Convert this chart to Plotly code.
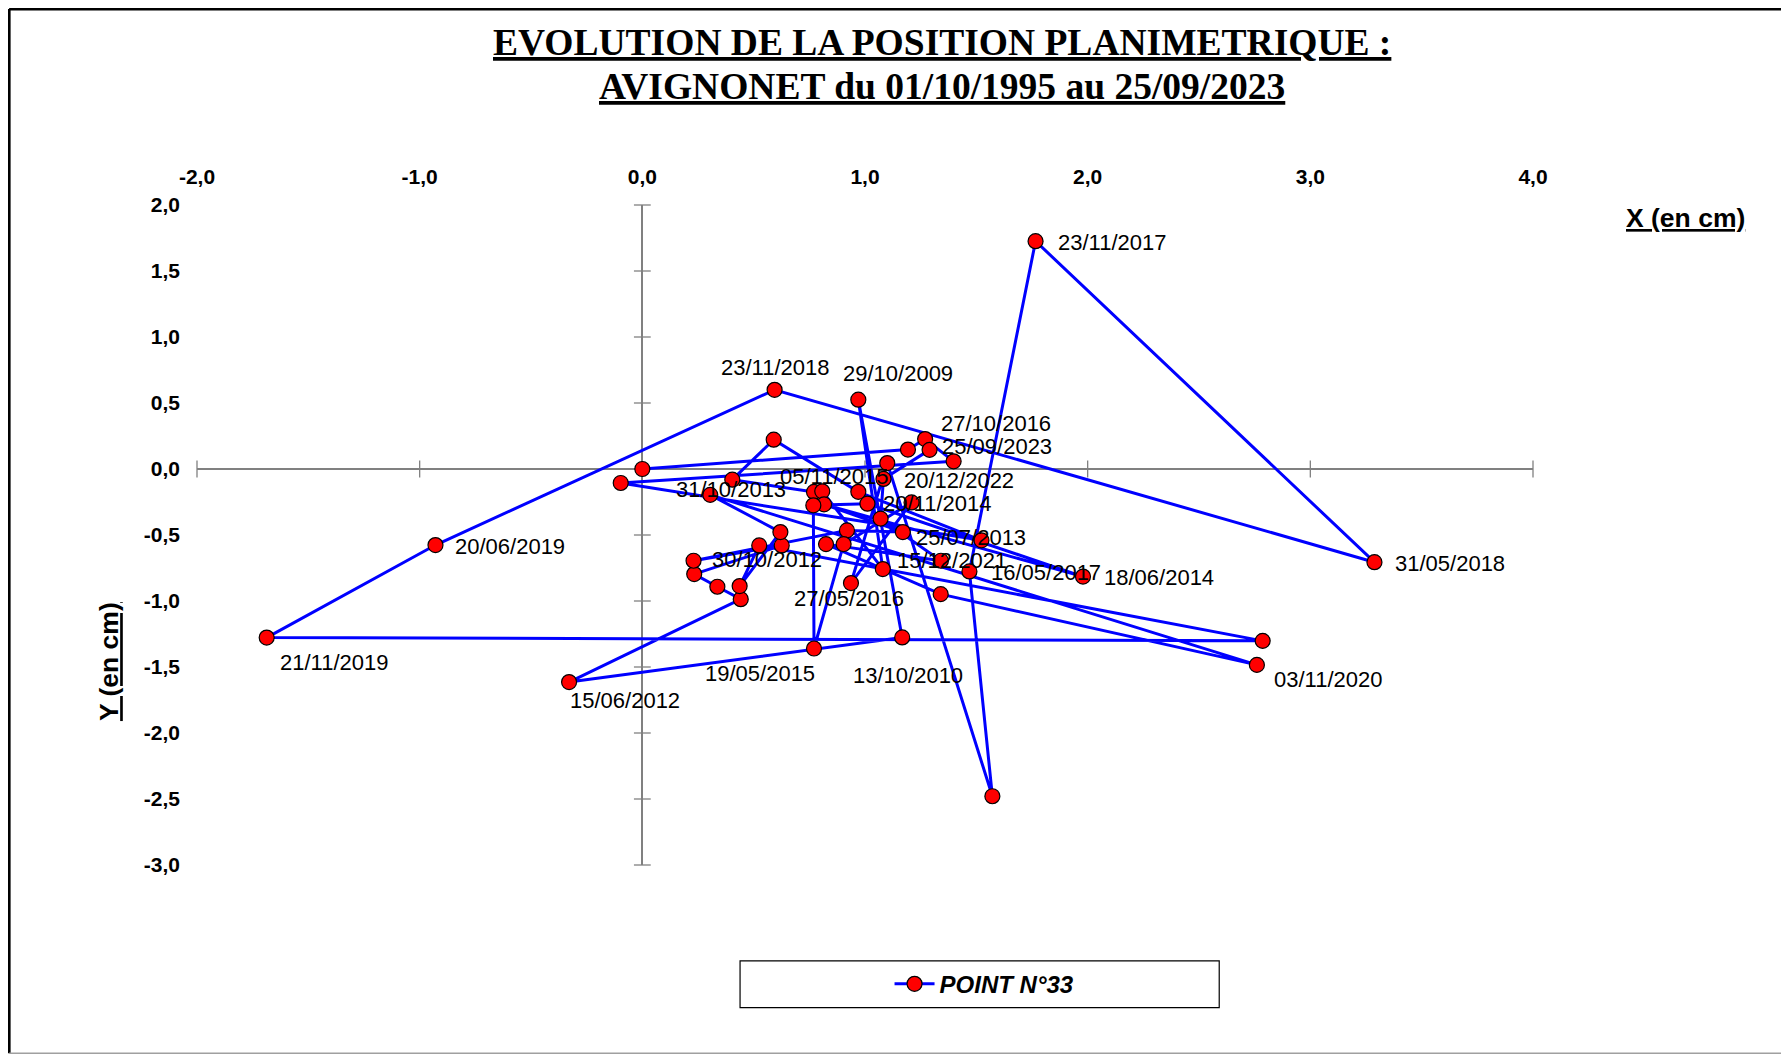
import plotly.graph_objects as go

# ---------------- data ----------------
point_ids = ["O", "F", "G", "E", "D", "U", "M", "A", "B", "K", "L", "Z3", "T09", "Z6",
             "J12", "Y5", "Y3", "Y2", "X2", "Y1", "W", "T", "Pp", "Z8", "Q", "N", "Z7",
             "X4", "R", "Z4", "I", "BOT", "Z2", "TOP", "R18", "N18", "J19", "N19", "P20",
             "X1", "Y4", "V", "C", "N20", "Z5", "X3", "Z1", "S", "J", "H"]
x_cm = [0.000, 1.193, 1.270, 1.398, -0.097, 1.523, 0.970, 0.590, 0.404, 0.771, 0.808, 1.080,
        0.970, 1.167, -0.329, 0.442, 0.337, 0.233, 0.626, 0.230, 0.919, 1.170, 0.816, 1.979,
        1.011, 0.768, 0.771, 0.904, 1.209, 0.937, 1.100, 1.572, 1.469, 1.766, 3.288, 0.594,
        -0.929, -1.687, 2.786, 0.525, 0.437, 0.620, 0.305, 2.760, 1.340, 0.825, 1.341, 1.070,
        1.083, 1.290]
y_cm = [0.000, 0.147, 0.227, 0.058, -0.106, -0.540, -0.173, 0.222, -0.081, -0.174, -0.169,
        -0.758, 0.525, -1.276, -1.614, -0.986, -0.892, -0.796, -0.579, -0.695, -0.465, -0.478,
        -0.268, -0.815, -0.263, -0.275, -1.360, -0.569, -0.253, -0.864, 0.045, -2.479, -0.776,
        1.726, -0.706, 0.600, -0.576, -1.277, -1.302, -0.579, -0.887, -0.478, -0.196, -1.484,
        -0.948, -0.569, -0.695, -0.376, -0.075, 0.145]

# date labels shown next to some points
label_dates = {
    "TOP": "23/11/2017", "R18": "31/05/2018", "N18": "23/11/2018", "T09": "29/10/2009",
    "G": "27/10/2016", "H": "25/09/2023", "L": "05/11/2015", "J": "20/12/2022",
    "C": "31/10/2013", "Q": "20/11/2014", "T": "25/07/2013", "Y1": "30/10/2012",
    "Z1": "15/12/2021", "Z2": "16/05/2017", "Z8": "18/06/2014", "Z4": "27/05/2016",
    "Z7": "19/05/2015", "Z6": "13/10/2010", "J12": "15/06/2012", "J19": "20/06/2019",
    "N19": "21/11/2019", "N20": "03/11/2020",
}

x_tick_vals = [-2, -1, 0, 1, 2, 3, 4]
x_tick_text = ["-2,0", "-1,0", "0,0", "1,0", "2,0", "3,0", "4,0"]
y_tick_vals = [2.0, 1.5, 1.0, 0.5, 0.0, -0.5, -1.0, -1.5, -2.0, -2.5, -3.0]
y_tick_text = ["2,0", "1,5", "1,0", "0,5", "0,0", "-0,5", "-1,0", "-1,5", "-2,0", "-2,5", "-3,0"]

series_name = "POINT N°33"
title_l1 = "EVOLUTION DE LA POSITION PLANIMETRIQUE :"
title_l2 = "AVIGNONET du 01/10/1995 au 25/09/2023"

# ---------------- styling / layout ----------------
# pixel offsets of the date labels relative to their point (dx right, dy down)
label_offsets = {
    "TOP": (76, 1), "R18": (76, 1), "N18": (0, -22), "T09": (40, -26), "G": (71, -16),
    "H": (67, -3), "L": (12, -15), "J": (76, 2), "C": (21, -5), "Q": (70, 0), "T": (68, 5),
    "Y1": (73, -1), "Z1": (11, 0), "Z2": (77, 1), "Z8": (76, 1), "Z4": (-2, 15),
    "Z7": (-54, 25), "Z6": (6, 38), "J12": (56, 18), "J19": (75, 1), "N19": (67, 25),
    "N20": (71, 15),
}

OFF = 8  # page body margin
W, H = 1789 - OFF, 1055 - OFF
PLOT_L, PLOT_T, PLOT_R, PLOT_B = 197.4, 205.4, 1533.5, 864.9   # page pixels
L_M, T_M = PLOT_L - OFF, PLOT_T - OFF
PW, PH = PLOT_R - PLOT_L, PLOT_B - PLOT_T
R_M, B_M = W - L_M - PW, H - T_M - PH


def px_to_paper(px, py):
    return (px - PLOT_L) / PW, (PLOT_B - py) / PH


SANS = "Liberation Sans, Arial, sans-serif"
SERIF = "Liberation Serif, Times New Roman, serif"
AXIS_GRAY = "#808080"

fig = go.Figure()

# axis cross-ticks (on the zero lines)
fig.add_trace(go.Scatter(
    x=x_tick_vals, y=[0] * len(x_tick_vals), mode="markers",
    marker=dict(symbol="line-ns", size=12, line=dict(color=AXIS_GRAY, width=1.3)),
    showlegend=False, hoverinfo="skip", cliponaxis=False))
fig.add_trace(go.Scatter(
    x=[0] * len(y_tick_vals), y=y_tick_vals, mode="markers",
    marker=dict(symbol="line-ew", size=12, line=dict(color=AXIS_GRAY, width=1.3)),
    showlegend=False, hoverinfo="skip", cliponaxis=False))

# the series
fig.add_trace(go.Scatter(
    x=x_cm, y=y_cm, mode="lines+markers", name="<b><i>" + series_name + "</i></b>",
    line=dict(color="#0000FF", width=3),
    marker=dict(symbol="circle", size=15, color="#FF0000", line=dict(color="black", width=1.2)),
    cliponaxis=False))

annotations = []
for pid, xv, yv in zip(point_ids, x_cm, y_cm):
    if pid in label_dates:
        dx, dy = label_offsets[pid]
        annotations.append(dict(
            x=xv, y=yv, xref="x", yref="y", text=label_dates[pid], showarrow=False,
            xanchor="center", yanchor="middle",
            xshift=dx, yshift=-dy, font=dict(family=SANS, size=22, color="black")))

# titles
for txt, py in ((title_l1, 43), (title_l2, 87)):
    xp, yp = px_to_paper(826 * 1.141, py)
    annotations.append(dict(x=xp, y=yp, xref="paper", yref="paper", showarrow=False,
                            xanchor="center", yanchor="middle",
                            text="<b><u>" + txt + "</u></b>",
                            font=dict(family=SERIF, size=37.5, color="black")))
# axis titles
xp, yp = px_to_paper(1686, 218)
annotations.append(dict(x=xp, y=yp, xref="paper", yref="paper", showarrow=False,
                        xanchor="center", yanchor="middle",
                        text="<b><u>X (en cm)</u></b>", font=dict(family=SANS, size=26.5, color="black")))
xp, yp = px_to_paper(109.5, 662)
annotations.append(dict(x=xp, y=yp, xref="paper", yref="paper", showarrow=False, textangle=-90,
                        xanchor="center", yanchor="middle",
                        text="<b><u>Y (en cm)</u></b>", font=dict(family=SANS, size=26.5, color="black")))

shapes = []
# legend frame
x0, y0 = px_to_paper(740.5, 1007.5)
x1, y1 = px_to_paper(1219.7, 960.7)
shapes.append(dict(type="rect", xref="paper", yref="paper", x0=x0, y0=y0, x1=x1, y1=y1,
                   line=dict(color="black", width=1.2), fillcolor="white", layer="below"))
# outer chart border (top / left black, bottom grey) at the figure edge
bx0, by_top = px_to_paper(OFF + 1.5, OFF + 1.5)
bx1, by_bot = px_to_paper(1800, 1053)
shapes.append(dict(type="line", xref="paper", yref="paper", x0=bx0, x1=bx1, y0=by_top, y1=by_top,
                   line=dict(color="black", width=3)))
shapes.append(dict(type="line", xref="paper", yref="paper", x0=bx0, x1=bx0, y0=by_top, y1=by_bot,
                   line=dict(color="black", width=3)))
shapes.append(dict(type="line", xref="paper", yref="paper", x0=bx0, x1=bx1, y0=by_bot, y1=by_bot,
                   line=dict(color="#A0A0A0", width=1.5)))

lx, ly = px_to_paper(985, 984)

fig.update_layout(
    width=W, height=H,
    margin=dict(l=L_M, r=R_M, t=T_M, b=B_M, autoexpand=False),
    paper_bgcolor="white", plot_bgcolor="white",
    showlegend=True,
    legend=dict(x=lx, y=ly, xanchor="center", yanchor="middle", bgcolor="rgba(0,0,0,0)",
                font=dict(family=SANS, size=24, color="black"), itemwidth=40),
    annotations=annotations, shapes=shapes,
    xaxis=dict(range=[-2, 4], side="top", showgrid=False, showline=False, zeroline=True,
               zerolinecolor=AXIS_GRAY, zerolinewidth=1.5, tickmode="array",
               tickvals=x_tick_vals, ticktext=x_tick_text, ticks="",
               tickfont=dict(family=SANS, size=21, color="black", weight="bold"),
               ticklabelstandoff=16),
    yaxis=dict(range=[-3, 2], showgrid=False, showline=False, zeroline=True,
               zerolinecolor=AXIS_GRAY, zerolinewidth=1.5, tickmode="array",
               tickvals=y_tick_vals, ticktext=y_tick_text, ticks="",
               tickfont=dict(family=SANS, size=21, color="black", weight="bold"),
               ticklabelstandoff=16),
)

fig.write_html("out.html")
